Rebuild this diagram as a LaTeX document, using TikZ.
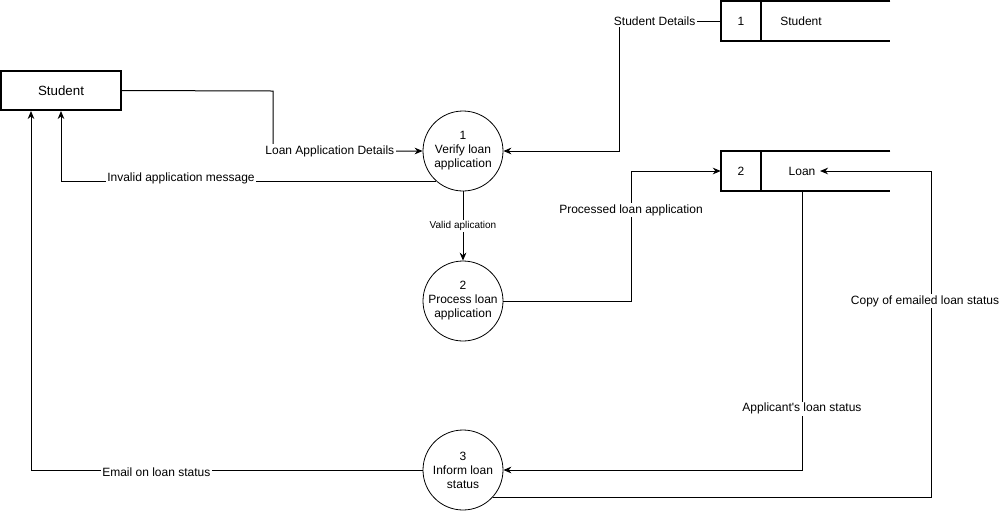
\documentclass[tikz,border=0pt]{standalone}
\usepackage{fontspec}
\setmainfont{Liberation Sans}
\usetikzlibrary{arrows.meta}

\begin{document}
\begin{tikzpicture}[x = 0.75pt, y = -0.75pt,
  font = \fontsize{9}{10.5}\selectfont,
  entity/.style = {draw, line width = 1.5pt, minimum width = 90pt, minimum height = 29.25pt, font = \fontsize{10}{12}\selectfont},
  process/.style = {draw, circle, line width = 0.6pt, minimum size = 60pt, inner sep = 0pt, align = center},
  store/.style = {minimum width = 126.75pt, minimum height = 30pt, inner sep = 0pt},
  flow/.style = {-{Stealth[length = 6pt, width = 5pt]}, line width = 0.75pt},
  lbl/.style = {fill = white, inner sep = 1pt}]
\useasboundingbox (0, 0) rectangle (1000, 512);
% external entity and processes
\node[entity] (student) at (61, 90.5) {Student};
\node[process] (verify) at (463, 151) {1\\Verify loan\\application};
\node[process] (processing) at (463, 301) {2\\Process loan\\application};
\node[process] (inform) at (463, 470) {3\\Inform loan\\status};
% data stores
\node[store] (ststudent) at (805.5, 21) {};
\node[store] (stloan) at (805.5, 171) {};
\foreach \s in {ststudent, stloan} {
  \draw[line width = 1.5pt] (\s.north east) -- (\s.north west) -- (\s.south west) -- (\s.south east);
  \draw[line width = 1.5pt] ([xshift = 30pt]\s.north west) -- ([xshift = 30pt]\s.south west);
}
\node (nstudent) at (741, 21) {1};
\node (tstudent) at (801, 21) {Student};
\node (nloan) at (741, 171) {2};
\node (tloan) at (802, 171) {Loan};
% data flows
\draw[flow] (student.east) -- (273, 91) |- node[lbl, pos = 0.69] {Loan Application Details} (verify.west);
\draw[flow] (verify.228) -| node[lbl, pos = 0.34, yshift = 2pt] {Invalid application message} (student.south);
\draw[flow] (verify.south) -- node[lbl, font = \fontsize{7.5}{9}\selectfont] {Valid aplication} (processing.north);
\draw[flow] (processing.east) -- (631, 301) |- node[lbl, pos = 0.35] {Processed loan application} (stloan.west);
\draw[flow] (ststudent.west) -- node[lbl, pos = 0.65] {Student Details} (619, 21) |- (verify.east);
\draw[flow] (stloan.south -| tloan) |- node[lbl, pos = 0.39] {Applicant\textquotesingle s loan status} (inform.east);
\draw[flow] (inform.318) -| node[lbl, pos = 0.8, xshift = -4.5pt] {Copy of emailed loan status} (931, 171) -- (tloan.east);
\draw[flow] (inform.west) -| node[lbl, pos = 0.34, yshift = -2pt] {Email on loan status} ([xshift = -22.5pt]student.south);
\end{tikzpicture}
\end{document}
